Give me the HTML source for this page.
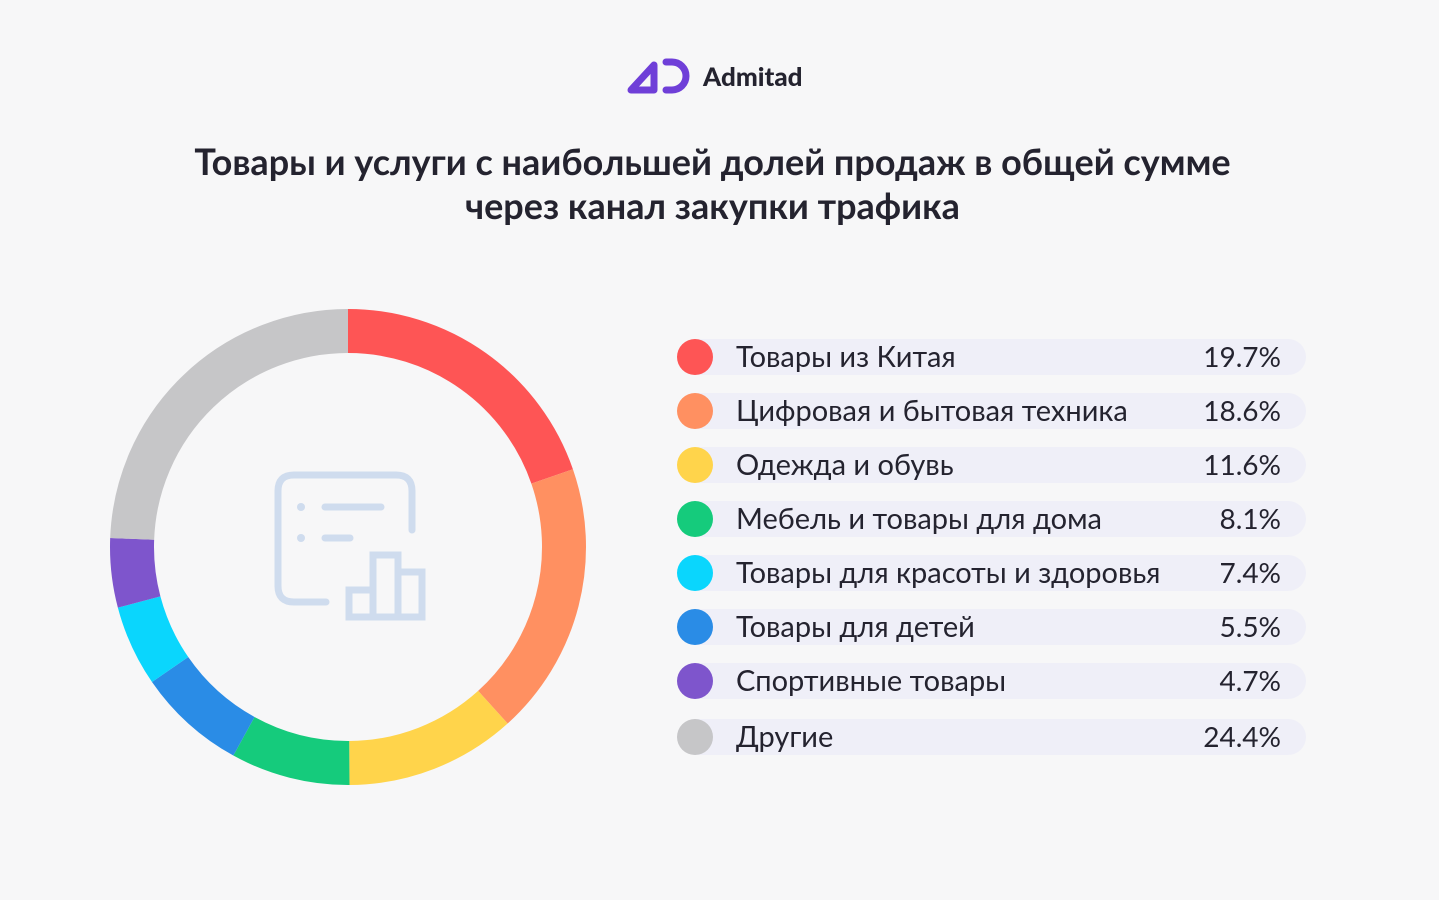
<!DOCTYPE html>
<html><head><meta charset="utf-8"><style>
body{margin:0;width:1439px;height:900px;background:#f7f7f8;font-family:"Lato","Liberation Sans","Noto Sans CJK SC",sans-serif;color:#24232f;overflow:hidden;position:relative}
.title{position:absolute;left:-7px;width:1439px;top:139px;text-align:center;font-weight:bold;font-size:36px;line-height:44px}
.pill{position:absolute;left:678px;width:628px;height:36px;background:#efeff8;border-radius:18px}
.dot{position:absolute;left:-1px;top:0;width:36px;height:36px;border-radius:50%}
.lab{position:absolute;left:58px;top:0px;font-size:29px;line-height:36px;white-space:nowrap}
.val{position:absolute;right:25px;top:-1px;font-size:28px;line-height:36px}
</style></head><body>
<svg style="position:absolute;left:626px;top:57px" width="68" height="38" viewBox="0 0 68 38">
<path d="M5 33 L28 8 L28 33 Z" fill="none" stroke="#6f3fd8" stroke-width="7" stroke-linejoin="round"/>
<path d="M40 5 L46 5 A14 14 0 0 1 46 33 L40 33" fill="none" stroke="#6f3fd8" stroke-width="7" stroke-linecap="round"/>
</svg>
<div style="position:absolute;left:703px;top:60px;font-size:26px;font-weight:900;color:#24232f">Admitad</div>
<div class="title">Товары и услуги с наибольшей долей продаж в общей сумме<br>через канал закупки трафика</div>
<svg id="donut" style="position:absolute;left:0;top:0" width="700" height="900">
<g fill="none" stroke="#cfdcee" stroke-width="7" stroke-linecap="round">
<path d="M326 602 L294 602 Q278 602 278 586 L278 491 Q278 475 294 475 L396 475 Q412 475 412 491 L412 530"/>
<line x1="325" y1="507" x2="381" y2="507"/><line x1="325" y1="538" x2="350" y2="538"/>
<rect x="349" y="590" width="24" height="27" stroke-linecap="butt"/><rect x="373" y="555" width="25" height="62"/><rect x="398" y="572" width="24" height="45"/>
</g>
<circle cx="301" cy="507" r="4" fill="#cfdcee"/><circle cx="301" cy="538" r="4" fill="#cfdcee"/>
</svg>
<div id="legend"></div>
<script>
const categories=["Товары из Китая","Цифровая и бытовая техника","Одежда и обувь","Мебель и товары для дома","Товары для красоты и здоровья","Товары для детей","Спортивные товары","Другие"];
const values=[19.7,18.6,11.6,8.1,7.4,5.5,4.7,24.4];
const labels=["19.7%","18.6%","11.6%","8.1%","7.4%","5.5%","4.7%","24.4%"];
const colors=["#fe5555","#ff9061","#ffd44b","#15cb7c","#0ad6fd","#2a8ce6","#7e55cc","#c6c6c8"];
const ringColors=["#fe5555","#ff9061","#ffd44b","#15cb7c","#2a8ce6","#0ad6fd","#7e55cc","#c6c6c8"];
const svg=document.getElementById('donut');const NS="http://www.w3.org/2000/svg";
const cx=348,cy=547,R=216,W=44;
const total=values.reduce((a,b)=>a+b,0);
let a0=0;
values.forEach((v,i)=>{
 const a1=a0+v/total*2*Math.PI;
 const p=document.createElementNS(NS,'path');
 const x0=cx+R*Math.sin(a0),y0=cy-R*Math.cos(a0),x1=cx+R*Math.sin(a1),y1=cy-R*Math.cos(a1);
 p.setAttribute('d',`M${x0} ${y0} A${R} ${R} 0 ${a1-a0>Math.PI?1:0} 1 ${x1} ${y1}`);
 p.setAttribute('fill','none');p.setAttribute('stroke',ringColors[i]);p.setAttribute('stroke-width',W);
 
 
 svg.appendChild(p);a0=a1;
});
const lg=document.getElementById('legend');
const ys=[339,393,447,501,555,609,663,719];
categories.forEach((c,i)=>{
 const d=document.createElement('div');d.className='pill';d.style.top=ys[i]+'px';
 
 
 d.innerHTML=`<div class="dot" style="background:${colors[i]}"></div><div class="lab">${c}</div><div class="val">${labels[i]}</div>`;
 lg.appendChild(d);
});
</script>
</body></html>
